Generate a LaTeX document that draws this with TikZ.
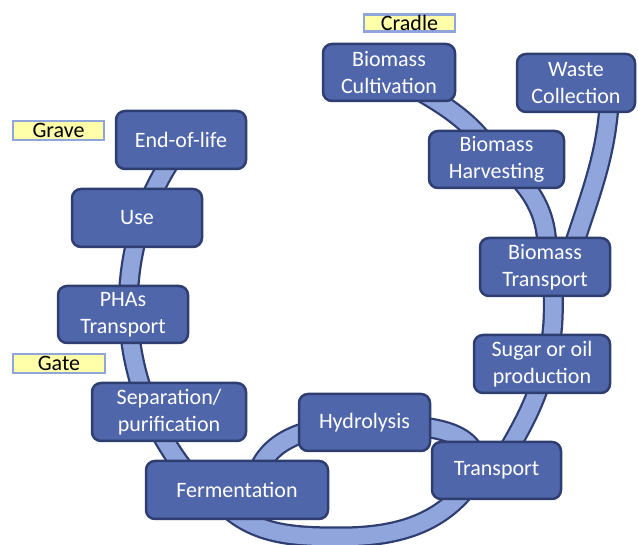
\documentclass[tikz,border=0pt]{standalone}
\usepackage{fontspec}
\setmainfont{Carlito}
\usetikzlibrary{backgrounds,calc}
\definecolor{nodefill}{RGB}{80,102,170}
\definecolor{nodeline}{RGB}{47,62,113}
\definecolor{bandfill}{RGB}{143,165,219}
\definecolor{labelfill}{RGB}{255,255,170}
\tikzset{
  stage/.style={draw=nodeline, line width=2.5pt, fill=nodefill, rounded corners=9pt,
    text=white, align=center, font=\fontsize{22}{27}\selectfont, inner sep=0pt},
  tag/.style={draw=bandfill, line width=2.5pt, fill=labelfill, text=black,
    font=\fontsize{22}{24}\selectfont, inner sep=0pt},
  bandout/.style={draw=nodeline, line width=21pt},
  bandin/.style={draw=bandfill, line width=16.5pt},
}
\newcommand\bandset[1]{%
  \draw[#1] (cult.center) to[out=-32,in=122] (harv.center) to[out=-35,in=80] (btrans.center);
  \draw[#1] ($(waste.center)+(34,5)$) to[out=-90,in=73] ($(btrans.center)+(22,0)$);
  \draw[#1] ($(btrans.center)+(8,0)$) to[out=-90,in=75] ($(sugar.center)+(4,0)$) to[out=-105,in=60] (trans.center);
  \draw[#1] ($(eol.center)+(10,7)$) arc[start angle=140,end angle=228,radius=268];
  \draw[#1] ($(ferm.center)+(18,10)$) to[out=75,in=185] (hydro.center) to[out=-5,in=90] ($(trans.center)+(-18,0)$)
     to[out=-120,in=0] (lb) to[out=180,in=-50] ($(ferm.center)+(-22,-5)$);
}
\begin{document}
\begin{tikzpicture}[x=1pt,y=1pt]
\useasboundingbox (0,0) rectangle (638,545);
% stages
\node[stage, minimum width=132pt, minimum height=57pt] (cult)   at (389,472.5) {Biomass\\Cultivation};
\node[stage, minimum width=118pt, minimum height=58pt] (waste)  at (576,462)   {Waste\\Collection};
\node[stage, minimum width=135pt, minimum height=57pt] (harv)   at (496.5,385.5) {Biomass\\Harvesting};
\node[stage, minimum width=130pt, minimum height=58pt] (btrans) at (545,278)   {Biomass\\Transport};
\node[stage, minimum width=136pt, minimum height=58pt] (sugar)  at (542,181)   {Sugar or oil\\production};
\node[stage, minimum width=129pt, minimum height=57pt] (trans)  at (496.5,74.5) {Transport};
\node[stage, minimum width=131pt, minimum height=57pt] (hydro)  at (364.5,122.5) {Hydrolysis};
\node[stage, minimum width=182pt, minimum height=58pt] (ferm)   at (237,55)    {Fermentation};
\node[stage, minimum width=154pt, minimum height=58pt] (sep)    at (169,133)   {Separation/\\purification};
\node[stage, minimum width=130pt, minimum height=57pt] (phas)   at (123,230.5) {PHAs\\Transport};
\node[stage, minimum width=130pt, minimum height=58pt] (use)    at (137,327)   {Use};
\node[stage, minimum width=130pt, minimum height=58pt] (eol)    at (181,405)   {End-of-life};
% tags
\node[tag, minimum width=91pt, minimum height=17pt] (cradle) at (409.5,522) {Cradle};
\node[tag, minimum width=91pt, minimum height=19pt] (grave)  at (58.5,414.5) {Grave};
\node[tag, minimum width=92pt, minimum height=19pt] (gate)   at (59,181.5) {Gate};
\coordinate (lb) at (340,8);
\begin{pgfonlayer}{background}
  \bandset{bandout}
  \bandset{bandin}
\end{pgfonlayer}
\end{tikzpicture}
\end{document}
